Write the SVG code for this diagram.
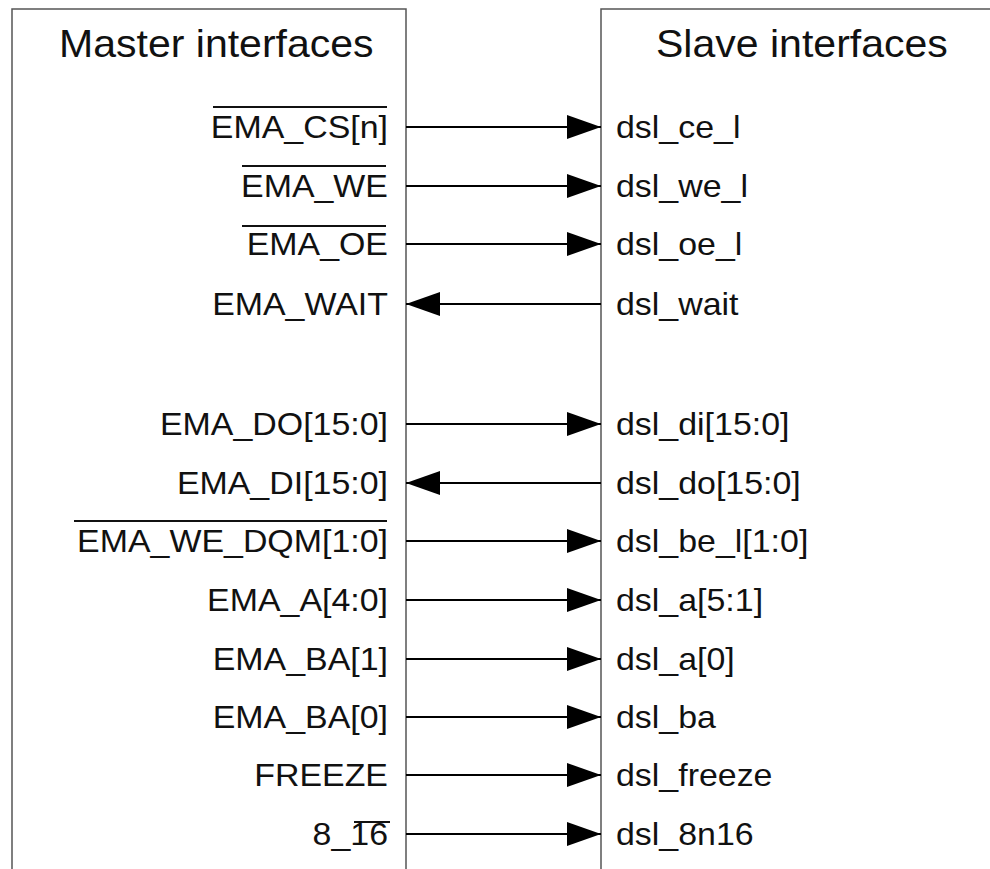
<svg xmlns="http://www.w3.org/2000/svg" width="990" height="869" viewBox="0 0 990 869">
<style>
.box{fill:none;stroke:#555;stroke-width:1.5}
.t{font-family:"Liberation Sans",Arial,sans-serif;font-size:32px;fill:#111}
.h{font-family:"Liberation Sans",Arial,sans-serif;font-size:38px;fill:#111}
.l{text-anchor:end}
.ov{stroke:#111;stroke-width:2}
.c{stroke:#000;stroke-width:2.2;fill:none;marker-end:url(#ah)}
</style>
<defs>
<marker id="ah" markerUnits="userSpaceOnUse" markerWidth="35" markerHeight="25" refX="34" refY="12" orient="auto">
<path d="M0,0 L34,12 L0,24 z" fill="#000"/>
</marker>
</defs>
<rect width="990" height="869" fill="#fff"/>
<g id="master">
<path class="box" d="M12,875 L12,9 L406,9 L406,875"/>
<text class="h" transform="translate(59,57) scale(1.08,1)">Master interfaces</text>
</g>
<g id="slave">
<path class="box" d="M1000,9 L601,9 L601,875"/>
<text class="h" transform="translate(656,57) scale(1.08,1)">Slave interfaces</text>
</g>
<g id="connectors">
<line class="c" x1="406" y1="127" x2="601" y2="127"/>
<line class="c" x1="406" y1="186" x2="601" y2="186"/>
<line class="c" x1="406" y1="244" x2="601" y2="244"/>
<line class="c" x1="601" y1="304" x2="406" y2="304"/>
<line class="c" x1="406" y1="424" x2="601" y2="424"/>
<line class="c" x1="601" y1="483" x2="406" y2="483"/>
<line class="c" x1="406" y1="541" x2="601" y2="541"/>
<line class="c" x1="406" y1="600" x2="601" y2="600"/>
<line class="c" x1="406" y1="659" x2="601" y2="659"/>
<line class="c" x1="406" y1="717" x2="601" y2="717"/>
<line class="c" x1="406" y1="775" x2="601" y2="775"/>
<line class="c" x1="406" y1="834" x2="601" y2="834"/>
</g>
<g id="m-cs"><text class="t l" transform="translate(388,138) scale(1.06,1)">EMA_CS[n]</text><line class="ov" x1="213" y1="107" x2="387" y2="107"/></g>
<g id="m-we"><text class="t l" transform="translate(388,197) scale(1.06,1)">EMA_WE</text><line class="ov" x1="242" y1="166" x2="386" y2="166"/></g>
<g id="m-oe"><text class="t l" transform="translate(388,255) scale(1.06,1)">EMA_OE</text><line class="ov" x1="242" y1="226" x2="386" y2="226"/></g>
<g id="m-wait"><text class="t l" transform="translate(388,315) scale(1.06,1)">EMA_WAIT</text></g>
<g id="m-do"><text class="t l" transform="translate(388,435) scale(1.06,1)">EMA_DO[15:0]</text></g>
<g id="m-di"><text class="t l" transform="translate(388,494) scale(1.06,1)">EMA_DI[15:0]</text></g>
<g id="m-dqm"><text class="t l" transform="translate(388,552) scale(1.06,1)">EMA_WE_DQM[1:0]</text><line class="ov" x1="74" y1="521" x2="387" y2="521"/></g>
<g id="m-a"><text class="t l" transform="translate(388,611) scale(1.06,1)">EMA_A[4:0]</text></g>
<g id="m-ba1"><text class="t l" transform="translate(388,670) scale(1.06,1)">EMA_BA[1]</text></g>
<g id="m-ba0"><text class="t l" transform="translate(388,728) scale(1.06,1)">EMA_BA[0]</text></g>
<g id="m-freeze"><text class="t l" transform="translate(388,786) scale(1.06,1)">FREEZE</text></g>
<g id="m-816"><text class="t l" transform="translate(388,845) scale(1.06,1)">8_16</text><line class="ov" x1="354" y1="822" x2="390" y2="822"/></g>
<g id="s-ce"><text class="t" transform="translate(616,138) scale(1.06,1)">dsl_ce_l</text></g>
<g id="s-we"><text class="t" transform="translate(616,197) scale(1.06,1)">dsl_we_l</text></g>
<g id="s-oe"><text class="t" transform="translate(616,255) scale(1.06,1)">dsl_oe_l</text></g>
<g id="s-wait"><text class="t" transform="translate(616,315) scale(1.06,1)">dsl_wait</text></g>
<g id="s-di"><text class="t" transform="translate(616,435) scale(1.06,1)">dsl_di[15:0]</text></g>
<g id="s-do"><text class="t" transform="translate(616,494) scale(1.06,1)">dsl_do[15:0]</text></g>
<g id="s-be"><text class="t" transform="translate(616,552) scale(1.06,1)">dsl_be_l[1:0]</text></g>
<g id="s-a"><text class="t" transform="translate(616,611) scale(1.06,1)">dsl_a[5:1]</text></g>
<g id="s-a0"><text class="t" transform="translate(616,670) scale(1.06,1)">dsl_a[0]</text></g>
<g id="s-ba"><text class="t" transform="translate(616,728) scale(1.06,1)">dsl_ba</text></g>
<g id="s-freeze"><text class="t" transform="translate(616,786) scale(1.06,1)">dsl_freeze</text></g>
<g id="s-8n16"><text class="t" transform="translate(616,845) scale(1.06,1)">dsl_8n16</text></g>
</svg>
